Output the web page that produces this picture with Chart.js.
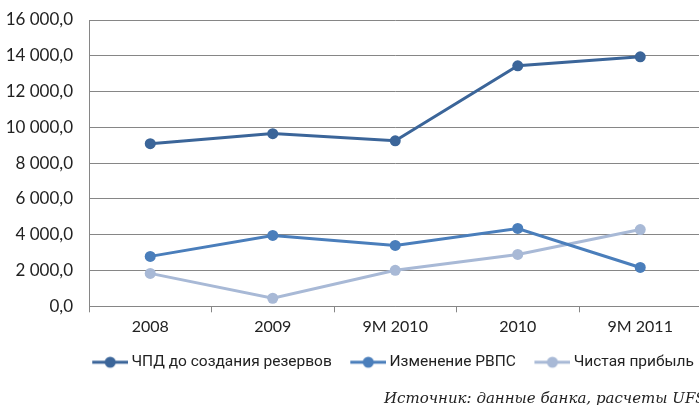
<!DOCTYPE html>
<html>
<head>
<meta charset="utf-8">
<script src="https://cdn.jsdelivr.net/npm/chart.js@4"></script>
<style>
  html, body { margin: 0; padding: 0; background: #fff; overflow: hidden; }
  .wrap { position: relative; width: 707px; height: 405px; }
  .source {
    position: absolute; left: 384px; top: 389px; white-space: nowrap;
    font-family: "DejaVu Serif", "Liberation Serif", serif; font-style: italic;
    font-size: 15px; line-height: 18px; color: #222;
  }
</style>
</head>
<body>
<div class="wrap">
  <canvas id="chart" width="707" height="405"></canvas>
  <div class="source">Источник: данные банка, расчеты UFS</div>
</div>
<script>
const categories = ['2008', '2009', '9M 2010', '2010', '9M 2011'];
const seriesNames = ['ЧПД до создания резервов', 'Изменение РВПС', 'Чистая прибыль'];
const npdValues = [9090, 9650, 9250, 13440, 13940];
const rvpsValues = [2790, 3960, 3400, 4350, 2170];
const profitValues = [1840, 450, 2010, 2900, 4290];
const colors = ['#3b6599', '#4a7ebb', '#a8b9d6'];

// маркер легенды: линия с кружком, сдвинут вправо к тексту
function legendMarker(color) {
  const c = document.createElement('canvas');
  c.width = 46; c.height = 14;
  const g = c.getContext('2d');
  g.strokeStyle = color; g.lineWidth = 3;
  g.beginPath(); g.moveTo(10, 7); g.lineTo(46, 7); g.stroke();
  g.fillStyle = color;
  g.beginPath(); g.arc(28, 7, 5.5, 0, Math.PI * 2); g.fill();
  return c;
}

const allValues = [npdValues, rvpsValues, profitValues];
const fmt = v => {
  const s = v.toFixed(1).replace('.', ',');
  const [a, b] = s.split(',');
  return a.replace(/\B(?=(\d{3})+(?!\d))/g, ' ') + ',' + b;
};

new Chart(document.getElementById('chart'), {
  type: 'line',
  data: {
    labels: categories,
    datasets: allValues.map((vals, i) => ({
      label: seriesNames[i],
      data: vals,
      borderColor: colors[i],
      backgroundColor: colors[i],
      borderWidth: 3,
      pointRadius: 5.5,
      pointHoverRadius: 5.5,
      pointBorderWidth: 0,
      tension: 0
    }))
  },
  options: {
    responsive: false,
    animation: false,
    layout: { padding: { top: 20, bottom: 25, left: 0, right: 0 } },
    plugins: {
      legend: {
        position: 'bottom',
        align: 'end',
        labels: {
          usePointStyle: true,
          pointStyleWidth: 37,
          padding: 13,
          color: '#222',
          font: { family: 'Roboto', size: 15.5 },
          generateLabels: chart => chart.data.datasets.map((ds, i) => ({
            text: ds.label,
            pointStyle: legendMarker(colors[i]),
            fillStyle: colors[i],
            strokeStyle: colors[i],
            lineWidth: 0,
            fontColor: '#222',
            datasetIndex: i
          }))
        }
      },
      tooltip: { enabled: false }
    },
    scales: {
      x: {
        offset: true,
        border: { display: true, color: '#868686', width: 1 },
        grid: { offset: true, drawOnChartArea: false, drawTicks: true, tickLength: 6, color: '#868686' },
        ticks: { color: '#222', padding: 5, font: { family: 'Lato', size: 16 } }
      },
      y: {
        min: 0,
        max: 16000,
        afterFit: scale => { scale.width = 89; },
        border: { display: true, color: '#868686', width: 1 },
        grid: { color: '#868686', drawTicks: true, tickLength: 14, tickColor: 'rgba(0,0,0,0)' },
        ticks: {
          stepSize: 2000,
          padding: 2,
          color: '#222',
          font: { family: 'Lato', size: 17 },
          callback: v => fmt(v)
        }
      }
    }
  }
});
</script>
</body>
</html>
